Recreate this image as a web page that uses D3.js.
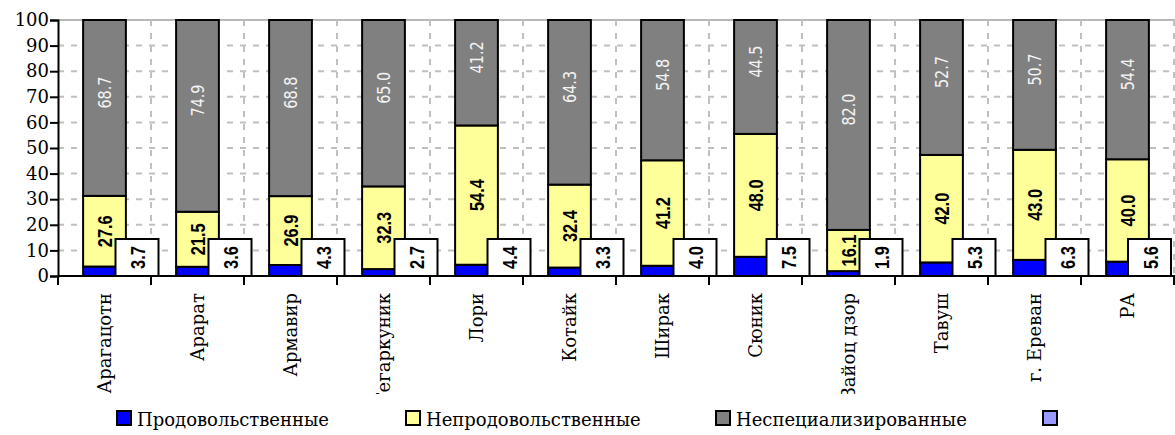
<!DOCTYPE html>
<html>
<head>
<meta charset="utf-8">
<script src="https://cdn.jsdelivr.net/npm/d3@7"></script>
<style>
  body { margin: 0; background: #fff; }
  svg { display: block; }
</style>
</head>
<body>
<div id="chart-area"></div>
<script>
// data
var categories = ["Арагацотн", "Арарат", "Армавир", "Гегаркуник", "Лори", "Котайк",
                  "Ширак", "Сюник", "Вайоц дзор", "Тавуш", "г. Ереван", "РА"];
var food    = [3.7, 3.6, 4.3, 2.7, 4.4, 3.3, 4.0, 7.5, 1.9, 5.3, 6.3, 5.6];
var nonFood = [27.6, 21.5, 26.9, 32.3, 54.4, 32.4, 41.2, 48.0, 16.1, 42.0, 43.0, 40.0];
var mixed   = [68.7, 74.9, 68.8, 65.0, 41.2, 64.3, 54.8, 44.5, 82.0, 52.7, 50.7, 54.4];
var seriesNames = ["Продовольственные", "Непродовольственные", "Неспециализированные", ""];
var yTicks = [0, 10, 20, 30, 40, 50, 60, 70, 80, 90, 100];

var width = 1175, height = 435;
// note: "top" is taken by window.top, so plot edges get their own names
var plotLeft = 58, plotRight = 1174, plotTop = 20, plotBottom = 276;

var colors = ["#0000ff", "#ffff99", "#808080", "#9999ff"];
var serif = "'DejaVu Serif', serif";
var sans = "'Liberation Sans', Arial, sans-serif";

var svg = d3.select("#chart-area")
  .append("svg")
    .attr("width", width)
    .attr("height", height);

var rows = categories.map(function(c, i) {
  return { cat: c, food: food[i], nonFood: nonFood[i], mixed: mixed[i] };
});
var keys = ["food", "nonFood", "mixed"];
var stacked = d3.stack().keys(keys)(rows);

var x = d3.scaleBand()
  .domain(categories)
  .range([plotLeft, plotRight])
  .paddingInner(0.54)
  .paddingOuter(0.27);
var step = x.step();

var y = d3.scaleLinear().domain([0, 100]).range([plotBottom, plotTop]);

// grid
var grid = svg.append("g");
grid.selectAll(".hgrid")
  .data(yTicks.filter(function(t) { return t > 0 && t < 100; }))
  .enter().append("line")
    .attr("x1", plotLeft).attr("x2", width)
    .attr("y1", function(d) { return y(d); })
    .attr("y2", function(d) { return y(d); })
    .attr("stroke", "#c0c0c0")
    .attr("stroke-width", 2)
    .attr("stroke-dasharray", "6,7");

grid.append("line")
  .attr("x1", plotLeft).attr("x2", width)
  .attr("y1", y(100)).attr("y2", y(100))
  .attr("stroke", "#a0a0a0")
  .attr("stroke-width", 1.5);

var bounds = d3.range(1, categories.length + 1).map(function(i) { return plotLeft + i * step; });
grid.selectAll(".vgrid")
  .data(bounds)
  .enter().append("line")
    .attr("x1", function(d) { return d; })
    .attr("x2", function(d) { return d; })
    .attr("y1", y(100)).attr("y2", plotBottom)
    .attr("stroke", "#c0c0c0")
    .attr("stroke-width", 2)
    .attr("stroke-dasharray", "6,7");

// bars
svg.append("g").selectAll("g")
  .data(stacked)
  .enter().append("g")
    .attr("fill", function(d, i) { return colors[i]; })
  .selectAll("rect")
  .data(function(d) { return d; })
  .enter().append("rect")
    .attr("x", function(d) { return x(d.data.cat); })
    .attr("width", x.bandwidth())
    .attr("y", function(d) { return y(d[1]); })
    .attr("height", function(d) { return y(d[0]) - y(d[1]); })
    .attr("stroke", "#000")
    .attr("stroke-width", 2);

// axes
var yAxis = svg.append("g")
  .attr("transform", "translate(" + plotLeft + ",0)")
  .call(d3.axisLeft(y).tickValues(yTicks).tickSize(8).tickPadding(1));
yAxis.select(".domain").attr("stroke-width", 2);
yAxis.selectAll(".tick line").attr("stroke-width", 2);
yAxis.selectAll("text")
  .attr("font-family", serif)
  .attr("font-size", 18)
  .attr("fill", "#000");

svg.append("line")
  .attr("x1", plotLeft).attr("x2", width)
  .attr("y1", plotBottom).attr("y2", plotBottom)
  .attr("stroke", "#000").attr("stroke-width", 2);

svg.selectAll(".xtick")
  .data([plotLeft].concat(bounds))
  .enter().append("line")
    .attr("x1", function(d) { return d; })
    .attr("x2", function(d) { return d; })
    .attr("y1", plotBottom).attr("y2", plotBottom + 9)
    .attr("stroke", "#000").attr("stroke-width", 2);

svg.append("clipPath").attr("id", "catclip")
  .append("rect").attr("x", 0).attr("y", 0).attr("width", width).attr("height", 394);

svg.append("g")
  .attr("clip-path", "url(#catclip)")
  .selectAll("text")
  .data(categories)
  .enter().append("text")
    .attr("transform", function(d) {
      return "translate(" + (x(d) + x.bandwidth() / 2 + 6) + "," + 293 + ") rotate(-90)";
    })
    .attr("text-anchor", "end")
    .attr("font-family", serif)
    .attr("font-size", 18)
    .text(function(d) { return d; });

// labels: non-food inside yellow (narrow bold look via horizontal squeeze)
var cx = function(d) { return x(d.data.cat) + x.bandwidth() / 2; };

svg.append("g").selectAll("text")
  .data(stacked[1])
  .enter().append("text")
    .attr("transform", function(d) {
      return "translate(" + cx(d) + "," + y((d[0] + d[1]) / 2) + ") rotate(-90) scale(0.82,1)";
    })
    .attr("text-anchor", "middle")
    .attr("dominant-baseline", "central")
    .attr("font-family", sans)
    .attr("font-weight", "bold")
    .attr("font-size", 20)
    .text(function(d) { return d3.format(".1f")(d.data.nonFood); });

// mixed inside gray
svg.append("g").selectAll("text")
  .data(stacked[2])
  .enter().append("text")
    .attr("transform", function(d) {
      return "translate(" + cx(d) + "," + y((d[0] + d[1]) / 2 + 6) + ") rotate(-90) scale(0.8,1)";
    })
    .attr("text-anchor", "middle")
    .attr("dominant-baseline", "central")
    .attr("font-family", "'DejaVu Sans', sans-serif")
    .attr("font-size", 18)
    .attr("fill", "#f4f4f4")
    .text(function(d) { return d3.format(".1f")(d.data.mixed); });

// food in white boxes beside the bar
var boxW = 43, boxH = 37;
var boxes = svg.append("g").selectAll("g")
  .data(stacked[0])
  .enter().append("g")
    .attr("transform", function(d) {
      var bx = Math.min(cx(d) + 11, width - 4 - boxW);
      return "translate(" + bx + "," + (y(0) - boxH) + ")";
    });
boxes.append("rect")
  .attr("width", boxW).attr("height", boxH)
  .attr("fill", "#fff")
  .attr("stroke", "#000")
  .attr("stroke-width", 2);
boxes.append("text")
  .attr("transform", "translate(" + (boxW / 2 + 1) + "," + (boxH / 2) + ") rotate(-90) scale(0.82,1)")
  .attr("text-anchor", "middle")
  .attr("dominant-baseline", "central")
  .attr("font-family", sans)
  .attr("font-weight", "bold")
  .attr("font-size", 20)
  .text(function(d) { return d3.format(".1f")(d.data.food); });

// legend
var legendX = [116, 405, 715, 1042];
var legend = svg.append("g").selectAll("g")
  .data(seriesNames)
  .enter().append("g")
    .attr("transform", function(d, i) { return "translate(" + legendX[i] + ",410)"; });
legend.append("rect")
  .attr("x", 1).attr("y", 1)
  .attr("width", 14).attr("height", 14)
  .attr("fill", function(d, i) { return colors[i]; })
  .attr("stroke", "#000")
  .attr("stroke-width", 2);
legend.append("text")
  .attr("x", 21).attr("y", 16)
  .attr("font-family", serif)
  .attr("font-size", 18)
  .text(function(d) { return d; });
</script>
</body>
</html>
